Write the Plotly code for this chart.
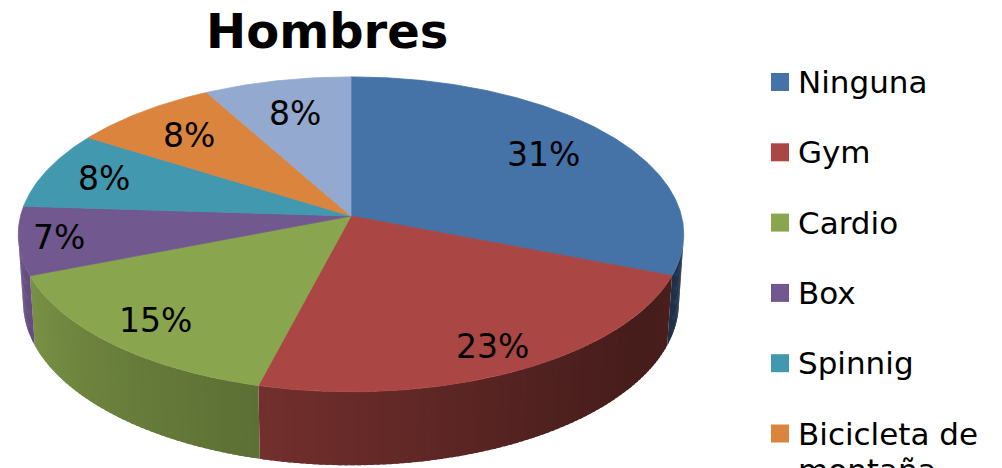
import numpy as np
import plotly.graph_objects as go

# ---- data ----
categorias = ["Ninguna", "Gym", "Cardio", "Box", "Spinnig", "Bicicleta de montaña", "Otros"]
porcentajes = [31, 23, 15, 7, 8, 8, 8]
colores = ["#4572A7", "#AA4643", "#89A54E", "#71588F", "#4198AF", "#DB843D", "#93A9CF"]
titulo = "Hombres"

# ---- 3D pie geometry (perspective view of a flat cylinder) ----
W, H = 1002, 468
CX, CY = 351, 216          # screen position of the pie centre
FOCAL = 2505.0             # focal length in pixels
DIST = 7.58                # camera distance, in pie radii
ELEV = np.arcsin(0.47)     # camera elevation
THICK = 0.235              # pie thickness, in pie radii
SE, CE = np.sin(ELEV), np.cos(ELEV)
FONT = "DejaVu Sans, Verdana, sans-serif"

# radial position of each percentage label (fraction of the radius)
LABEL_R = [0.74, 0.86, 0.83, 0.88, 0.81, 0.76, 0.74]


def proj(phi, r, z):
    x = r * np.cos(phi)
    y = r * np.sin(phi)
    depth = y * CE - z * SE + DIST
    yc = y * SE + z * CE
    return CX + FOCAL * x / depth, CY - FOCAL * yc / depth


def shade(hex_color, f):
    h = hex_color.lstrip("#")
    r, g, b = (int(h[i:i + 2], 16) for i in (0, 2, 4))
    return "rgb(%d,%d,%d)" % (round(r * f), round(g * f), round(b * f))


# side brightness as a function of the angle (light from the front-left)
SIDE_PHI = np.radians([-180, -160, -137, -106, -58, -36, -8])
SIDE_F = [0.91, 0.89, 0.79, 0.68, 0.47, 0.41, 0.45]

total = float(sum(porcentajes))
frac = np.cumsum([0] + porcentajes) / total
# angles start at 12 o'clock and run clockwise
phi_edges = np.pi / 2 - 2 * np.pi * frac

vis_lim = np.arcsin(-1.0 / (DIST * CE))           # side faces toward camera
vis_lo, vis_hi = -np.pi - vis_lim, vis_lim

fig = go.Figure()

# --- visible outer side of each slice, drawn as overlapping shaded strips ---
STEP = np.radians(1.0)
for i, col in enumerate(colores):
    a0, a1 = phi_edges[i], phi_edges[i + 1]       # a0 > a1
    hi, lo = min(a0, vis_hi), max(a1, vis_lo)
    if hi <= lo:
        continue
    n = max(1, int(round((hi - lo) / STEP)))
    cuts = np.linspace(hi, lo, n + 1)
    for k in range(n):
        p0 = cuts[k]
        p1 = max(lo, cuts[k + 1] - STEP * 0.6)   # small overlap hides seams
        ph = np.linspace(p0, p1, 4)
        xt, yt = proj(ph, 1.0, 0.0)
        xb, yb = proj(ph[::-1], 1.0, -THICK)
        f = float(np.interp((cuts[k] + cuts[k + 1]) / 2, SIDE_PHI, SIDE_F))
        c = shade(col, f)
        fig.add_trace(go.Scatter(
            x=np.concatenate([xt, xb, xt[:1]]),
            y=np.concatenate([yt, yb, yt[:1]]),
            mode="lines", fill="toself", fillcolor=c,
            line=dict(color=c, width=0),
            hoverinfo="skip", showlegend=False))

# --- top faces ---
x0, y0 = proj(0.0, 0.0, 0.0)
for i, col in enumerate(colores):
    a0, a1 = phi_edges[i], phi_edges[i + 1]
    ph = np.linspace(a0, a1, max(3, int(np.degrees(a0 - a1) * 2)))
    xa, ya = proj(ph, 1.0, 0.0)
    fig.add_trace(go.Scatter(
        x=np.concatenate([[x0], xa, [x0]]),
        y=np.concatenate([[y0], ya, [y0]]),
        mode="lines", fill="toself", fillcolor=col,
        line=dict(color=col, width=0.8),
        name=categorias[i], hoverinfo="name", showlegend=False))

# --- percentage labels ---
annotations = []
for i, v in enumerate(porcentajes):
    mid = (phi_edges[i] + phi_edges[i + 1]) / 2
    lx, ly = proj(mid, LABEL_R[i], 0.0)
    annotations.append(dict(
        x=float(lx), y=float(ly), xref="x", yref="y",
        text="%d%%" % round(100 * v / total), showarrow=False,
        font=dict(family=FONT, size=33, color="#000000"),
        xanchor="center", yanchor="middle"))

# --- title ---
annotations.append(dict(
    x=327, y=31, xref="x", yref="y", text="<b>%s</b>" % titulo,
    showarrow=False, font=dict(family=FONT, size=48, color="#000000"),
    xanchor="center", yanchor="middle"))

# --- legend (right side, wraps and runs past the bottom edge) ---
shapes = []
LEG_X, LEG_Y0, LEG_DY, BOX = 771, 82, 70.3, 18
LEG_SIZE, LEG_LINE = 31, 36
for i, name in enumerate(categorias):
    yc = LEG_Y0 + i * LEG_DY
    shapes.append(dict(type="rect", xref="x", yref="y",
                       x0=LEG_X, x1=LEG_X + BOX, y0=yc - BOX / 2, y1=yc + BOX / 2,
                       fillcolor=colores[i], line=dict(width=0)))
    words = name.split(" ")
    lines = [name] if len(name) <= 12 else [" ".join(words[:2]), " ".join(words[2:])]
    for j, txt in enumerate(lines):
        annotations.append(dict(
            x=(LEG_X + BOX + 7) / W, y=1 - (yc + j * LEG_LINE) / H,
            xref="paper", yref="paper", text=txt,
            showarrow=False, align="left",
            font=dict(family=FONT, size=LEG_SIZE, color="#000000"),
            xanchor="left", yanchor="middle"))

fig.update_layout(
    width=W, height=H,
    margin=dict(l=0, r=0, t=0, b=0),
    paper_bgcolor="white", plot_bgcolor="white",
    xaxis=dict(range=[0, W], visible=False, fixedrange=True),
    yaxis=dict(range=[H, 0], visible=False, fixedrange=True),
    showlegend=False,
    annotations=annotations,
    shapes=shapes,
)

fig.write_html("out.html")
